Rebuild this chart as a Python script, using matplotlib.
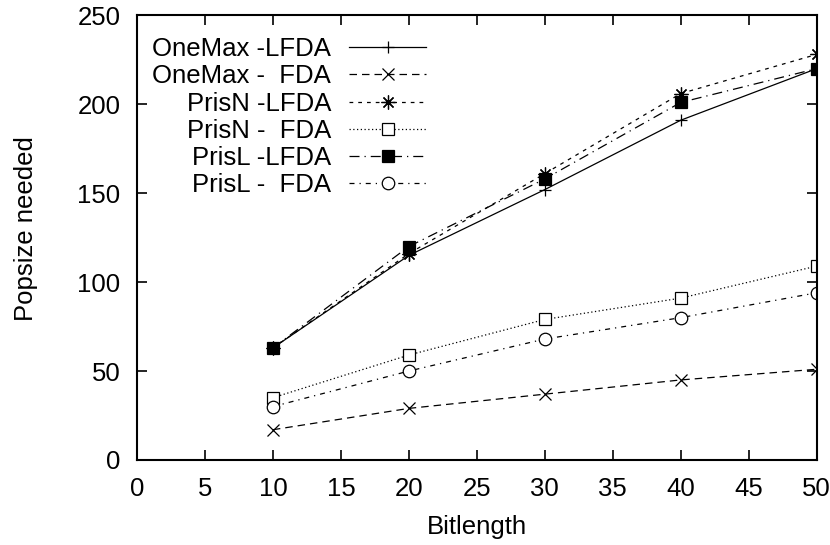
import matplotlib
matplotlib.use('Agg')
import matplotlib.pyplot as plt

plt.rcParams['font.family'] = ['Liberation Sans', 'DejaVu Sans']

bitlength = [10, 20, 30, 40, 50]

onemax_lfda = [63, 115, 152, 191, 220]
onemax_fda = [17, 29, 37, 45, 51]
prisn_lfda = [63, 116, 161, 206, 228]
prisn_fda = [35, 59, 79, 91, 109]
prisl_lfda = [63, 120, 158, 201, 220]
prisl_fda = [30, 50, 68, 80, 94]

labels = ['OneMax -LFDA', 'OneMax -  FDA', 'PrisN -LFDA',
          'PrisN -  FDA', 'PrisL -LFDA', 'PrisL -  FDA']

fig = plt.figure(figsize=(8.3, 5.45), dpi=100)
ax = fig.add_axes([0.165, 0.156, 0.819, 0.816])

lw = 0.9
ms = 9
fs = 18.5
ax.plot(bitlength, onemax_lfda, color='black', lw=lw, ls='-',
        marker='+', ms=ms, mew=lw, label=labels[0])
ax.plot(bitlength, onemax_fda, color='black', lw=lw, dashes=(6, 4),
        marker='x', ms=ms - 1, mew=lw, label=labels[1])
ax.plot(bitlength, prisn_lfda, color='black', lw=lw, dashes=(3, 4),
        marker=(8, 2, 0), ms=ms + 1, mew=lw, label=labels[2])
ax.plot(bitlength, prisn_fda, color='black', lw=lw, dashes=(1, 2),
        marker='s', ms=ms, mew=lw, mfc='white', label=labels[3])
ax.plot(bitlength, prisl_lfda, color='black', lw=lw, dashes=(8, 4, 1, 4),
        marker='s', ms=ms, mew=lw, mfc='black', label=labels[4])
ax.plot(bitlength, prisl_fda, color='black', lw=lw, dashes=(4, 4, 1, 4),
        marker='o', ms=ms, mew=lw, mfc='white', label=labels[5])

ax.set_xlim(0, 50)
ax.set_ylim(0, 250)
ax.set_xticks(range(0, 51, 5))
ax.set_yticks(range(0, 251, 50))
ax.tick_params(direction='in', length=7, width=1.2, top=True, right=True,
               labelsize=fs, pad=12)
for s in ax.spines.values():
    s.set_linewidth(1.5)

ax.set_xlabel('Bitlength', fontsize=fs, labelpad=10)
ax.set_ylabel('Popsize needed', fontsize=fs)
ax.yaxis.set_label_coords(-0.145, 0.52)

leg = ax.legend(loc='upper left', bbox_to_anchor=(0.0, 0.985), frameon=False,
                markerfirst=False, fontsize=fs, handlelength=3,
                handletextpad=0.7, labelspacing=0.12, borderaxespad=0.2)

fig.savefig('out.png', dpi=100)
